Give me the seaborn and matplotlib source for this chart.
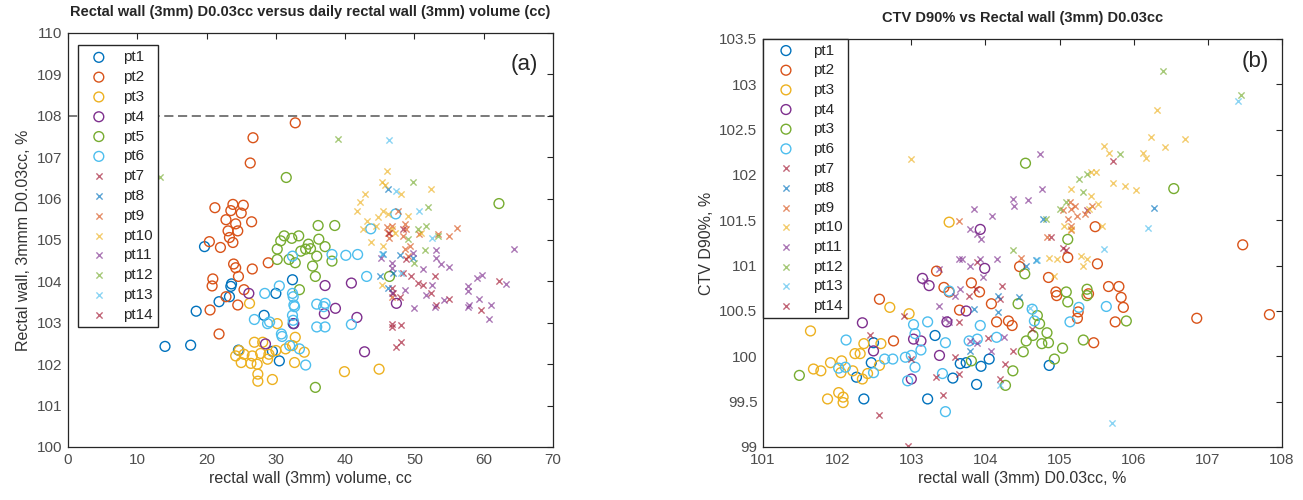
import numpy as np
import pandas as pd
import matplotlib
matplotlib.use('Agg')
import matplotlib.pyplot as plt
import seaborn as sb
from matplotlib.ticker import FormatStrFormatter

sb.set_style('white')
plt.rcParams['font.family'] = ['Liberation Sans', 'DejaVu Sans']

# MATLAB default colour order
kleuren = ['#0072BD', '#D95319', '#EDB120', '#7E2F8E', '#77AC30', '#4DBEEE', '#A2142F']
patients = ['pt%d' % i for i in range(1, 15)]
labels_b = ['pt1', 'pt2', 'pt3', 'pt4', 'pt3', 'pt6', 'pt7', 'pt8', 'pt9', 'pt10',
            'pt11', 'pt12', 'pt13', 'pt14']

# ---- panel (a): rectal wall volume (cc) vs rectal wall D0.03cc (%) ----
a_pt1_x = [14.0, 17.7, 18.5, 19.7, 21.8, 23.3, 23.5, 23.6, 24.6, 28.3, 29.5, 30.0, 32.4, 32.5, 30.5]
a_pt1_y = [102.43, 102.46, 103.28, 104.84, 103.51, 103.63, 103.88, 103.94, 102.34, 103.18, 102.31, 103.71, 104.04, 102.98, 102.08]
a_pt2_x = [32.8, 26.7, 26.3, 21.2, 23.8, 25.3, 23.5, 25.0, 22.8, 26.5, 24.2, 23.1, 24.5, 23.3, 23.8, 20.4, 22.0, 28.9, 26.6, 23.9, 24.2, 24.6, 20.9, 20.8, 22.8, 24.5, 20.5, 21.8, 25.4]
a_pt2_y = [107.83, 107.47, 106.86, 105.78, 105.86, 105.84, 105.71, 105.65, 105.49, 105.44, 105.39, 105.22, 105.22, 105.06, 104.94, 104.96, 104.82, 104.45, 104.30, 104.42, 104.33, 104.12, 104.06, 103.89, 103.63, 103.43, 103.31, 102.73, 103.8]
a_pt3_x = [26.2, 30.2, 32.8, 26.9, 28.1, 24.7, 24.2, 25.4, 26.6, 27.8, 29.0, 30.0, 31.4, 32.4, 34.1, 25.0, 26.4, 27.3, 27.4, 27.4, 29.5, 32.7, 39.9, 44.9, 28.8]
a_pt3_y = [103.47, 102.98, 102.65, 102.53, 102.53, 102.33, 102.20, 102.24, 102.20, 102.26, 102.24, 102.33, 102.37, 102.45, 102.29, 102.04, 102.02, 102.0, 101.76, 101.59, 101.63, 102.04, 101.82, 101.88, 102.12]
a_pt4_x = [26.1, 28.5, 32.6, 37.1, 37.0, 38.6, 40.9, 41.7, 42.8, 47.4]
a_pt4_y = [103.71, 102.49, 102.98, 103.90, 103.22, 103.35, 103.96, 103.13, 102.30, 103.47]
a_pt5_x = [31.5, 62.2, 36.1, 38.5, 31.2, 33.3, 32.3, 30.7, 34.7, 36.2, 37.1, 30.2, 34.3, 35.0, 35.9, 31.9, 30.2, 33.6, 38.1, 32.8, 35.3, 35.7, 33.4, 46.4, 35.7]
a_pt5_y = [106.51, 105.88, 105.35, 105.35, 105.10, 105.10, 105.04, 104.98, 104.90, 105.02, 104.84, 104.78, 104.78, 104.79, 104.61, 104.53, 104.53, 104.73, 104.49, 104.45, 104.37, 104.12, 103.80, 104.12, 101.44]
a_pt6_x = [47.3, 43.7, 38.1, 40.1, 41.8, 32.4, 43.1, 30.5, 28.4, 32.4, 32.5, 32.6, 32.7, 32.4, 32.5, 35.9, 37.1, 36.9, 26.9, 28.8, 29.1, 30.8, 30.9, 32.0, 33.4, 35.9, 37.1, 40.9, 34.3]
a_pt6_y = [105.63, 105.27, 104.65, 104.63, 104.65, 104.61, 104.12, 103.89, 103.71, 103.71, 103.63, 103.43, 103.39, 103.18, 103.06, 103.45, 103.47, 103.39, 103.08, 102.98, 103.02, 102.73, 102.67, 102.45, 102.37, 102.90, 102.90, 102.96, 101.98]
a_pt7_x = [46.7, 46.9, 47.9, 48.4, 49.5, 50.5, 51.2, 52.9, 52.4, 53.1, 55.0]
a_pt7_y = [103.84, 103.71, 103.63, 104.20, 104.12, 103.96, 103.92, 104.12, 103.71, 103.43, 103.57]
a_pt8_x = [46.2, 45.5, 45.0, 46.9, 46.2, 47.9, 49.8]
a_pt8_y = [106.24, 104.65, 104.12, 104.20, 103.84, 104.63, 104.57]
a_pt9_x = [47.6, 46.0, 46.7, 48.6, 48.8, 46.2, 46.4, 48.4, 50.7, 53.4, 55.0, 56.2, 49.3, 49.1, 46.7, 48.6]
a_pt9_y = [105.71, 105.31, 105.35, 105.39, 105.27, 105.18, 105.06, 105.10, 105.14, 105.14, 105.10, 105.28, 104.86, 104.61, 103.63, 104.78]
a_pt10_x = [46.0, 45.3, 45.7, 42.9, 42.1, 41.7, 48.1, 52.4, 43.1, 44.8, 45.5, 46.2, 43.8, 42.6, 44.5, 46.7, 47.2, 45.5, 45.3, 49.1, 51.0]
a_pt10_y = [106.67, 106.41, 106.33, 106.12, 105.92, 105.71, 106.11, 106.24, 105.47, 105.55, 105.71, 105.63, 104.94, 105.27, 105.35, 105.27, 105.18, 104.86, 103.92, 105.59, 105.18]
a_pt11_x = [45.2, 46.7, 46.8, 49.8, 51.2, 53.1, 53.1, 53.8, 55.0, 64.3, 46.7, 48.6, 50.0, 51.7, 52.6, 52.9, 54.3, 57.7, 57.7, 57.9, 59.1, 59.8, 59.3, 61.0, 60.8, 63.2, 57.7]
a_pt11_y = [104.57, 104.45, 104.33, 104.69, 104.29, 104.76, 104.57, 104.41, 104.35, 104.78, 103.71, 103.80, 103.35, 103.67, 103.92, 103.39, 103.55, 103.88, 103.76, 103.43, 104.08, 104.16, 103.57, 103.43, 103.10, 103.94, 103.39]
a_pt12_x = [38.9, 49.8, 51.9, 51.7, 51.5, 53.4, 50.5, 49.1, 49.9, 13.3]
a_pt12_y = [107.45, 106.39, 105.80, 105.33, 104.76, 105.09, 105.27, 105.02, 104.45, 106.53]
a_pt13_x = [46.3, 50.6, 47.3, 52.6, 45.3, 48.1]
a_pt13_y = [107.41, 105.69, 106.19, 105.06, 104.65, 104.20]
a_pt14_x = [59.6, 62.2, 46.7, 46.8, 48.1, 47.4, 48.1, 48.4, 46.4, 48.8]
a_pt14_y = [103.31, 104.0, 102.98, 102.90, 102.94, 102.41, 102.53, 105.27, 105.18, 104.53]

# ---- panel (b): rectal wall D0.03cc (%) vs CTV D90% (%) ----
b_pt1_x = [102.36, 103.22, 103.32, 103.66, 103.74, 103.88, 103.94, 104.05, 104.86, 102.46, 102.49, 102.26, 103.56]
b_pt1_y = [99.53, 99.53, 100.23, 99.92, 99.93, 99.69, 99.89, 99.97, 99.90, 99.93, 100.15, 99.77, 99.76]
b_pt2_x = [102.57, 102.76, 103.34, 103.44, 103.51, 103.65, 103.81, 103.92, 104.08, 104.15, 104.31, 104.36, 104.46, 104.85, 104.95, 104.96, 105.11, 105.24, 105.25, 105.48, 105.51, 105.39, 105.46, 105.66, 105.80, 105.83, 105.86, 105.75, 106.85, 107.47, 107.83]
b_pt2_y = [100.63, 100.17, 100.94, 100.76, 100.71, 100.51, 100.81, 100.71, 100.58, 100.38, 100.39, 100.34, 100.99, 100.87, 100.71, 100.67, 101.09, 100.42, 100.49, 101.43, 101.02, 100.69, 100.15, 100.77, 100.77, 100.65, 100.54, 100.38, 100.42, 101.23, 100.46]
b_pt3_x = [101.64, 101.68, 101.78, 101.91, 101.87, 102.02, 102.08, 102.08, 102.06, 102.21, 102.24, 102.31, 102.36, 102.34, 102.41, 102.59, 102.57, 103.51, 102.71, 102.97, 102.05]
b_pt3_y = [100.28, 99.86, 99.84, 99.93, 99.53, 99.60, 99.55, 99.49, 99.95, 99.84, 100.03, 100.03, 100.14, 99.75, 99.81, 100.14, 99.90, 101.48, 100.54, 100.47, 99.82]
b_pt4_x = [102.34, 102.49, 103.15, 103.24, 103.03, 103.13, 103.38, 103.48, 103.93, 103.99, 103.74, 103.0]
b_pt4_y = [100.37, 100.06, 100.86, 100.78, 100.19, 100.17, 100.01, 100.38, 101.40, 100.97, 100.50, 99.75]
b_pt5_x = [101.49, 104.54, 106.54, 105.11, 105.09, 105.11, 105.37, 105.37, 105.90, 105.32, 105.04, 104.93, 104.73, 104.83, 104.76, 104.85, 104.64, 104.55, 104.51, 104.37, 104.27, 104.53, 104.44, 104.70, 103.81]
b_pt5_y = [99.79, 102.13, 101.85, 101.29, 100.71, 100.60, 100.74, 100.67, 100.39, 100.18, 100.09, 99.97, 100.36, 100.26, 100.14, 100.15, 100.23, 100.17, 100.05, 99.84, 99.68, 100.91, 100.58, 100.45, 99.95]
b_pt6_x = [102.11, 102.12, 102.02, 102.49, 102.64, 102.75, 102.92, 103.0, 103.05, 103.05, 103.03, 103.13, 103.22, 103.46, 103.42, 102.95, 103.46, 103.51, 103.78, 103.89, 103.93, 104.15, 104.63, 104.66, 105.14, 105.26, 105.63]
b_pt6_y = [99.88, 100.18, 99.87, 99.82, 99.97, 99.97, 99.99, 100.01, 100.25, 99.88, 100.35, 100.07, 100.38, 100.15, 99.81, 99.73, 99.39, 100.72, 100.17, 100.19, 100.34, 100.21, 100.52, 100.39, 100.38, 100.54, 100.55]
b_pt7_x = [105.72, 104.88, 105.04, 105.09, 105.37, 104.22, 104.20, 103.89, 103.87, 104.04, 103.59]
b_pt7_y = [102.15, 101.32, 101.20, 101.17, 101.61, 100.78, 100.63, 101.04, 100.74, 100.20, 99.99]
b_pt8_x = [106.28, 104.45, 104.68, 104.55, 104.17, 104.17, 103.79, 103.84, 104.78]
b_pt8_y = [101.64, 100.65, 101.06, 101.0, 100.67, 100.49, 100.06, 100.52, 101.52]
b_pt9_x = [103.64, 105.04, 105.14, 105.16, 105.21, 105.24, 105.34, 105.44, 105.11, 105.16, 105.16, 104.83, 104.48]
b_pt9_y = [101.49, 101.61, 101.70, 101.63, 101.66, 101.55, 101.57, 101.66, 101.51, 101.44, 101.39, 101.32, 101.09]
b_pt10_x = [103.0, 106.31, 106.69, 106.23, 106.42, 105.60, 105.67, 106.13, 106.16, 105.49, 105.42, 105.72, 105.88, 106.03, 105.16, 105.42, 105.52, 105.39, 105.06, 105.16, 104.86, 104.96, 105.29, 105.37, 105.32, 105.57, 104.93]
b_pt10_y = [102.18, 102.72, 102.40, 102.42, 102.31, 102.32, 102.24, 102.24, 102.19, 102.03, 102.03, 101.91, 101.88, 101.83, 101.85, 101.77, 101.68, 101.63, 101.44, 101.40, 101.09, 101.07, 101.11, 101.07, 101.0, 101.44, 100.89]
b_pt11_x = [104.73, 104.76, 104.58, 104.37, 104.39, 104.09, 103.84, 103.79, 103.89, 103.94, 103.64, 103.69, 104.15, 103.79, 103.38, 103.92, 103.66, 103.59, 103.38, 103.46, 103.51, 103.79, 103.89, 104.07, 104.25, 103.18, 103.97]
b_pt11_y = [102.23, 101.85, 101.72, 101.74, 101.66, 101.55, 101.63, 101.40, 101.35, 101.29, 101.07, 101.07, 101.07, 101.0, 100.96, 101.07, 100.74, 100.67, 100.55, 100.41, 100.38, 100.17, 100.15, 100.06, 100.21, 100.83, 100.87]
b_pt12_x = [106.39, 107.44, 105.82, 105.37, 105.26, 104.81, 105.09, 105.31, 104.37, 105.01]
b_pt12_y = [103.15, 102.88, 102.23, 102.01, 101.96, 101.51, 101.70, 101.81, 101.17, 101.63]
b_pt13_x = [107.41, 106.19, 105.60, 104.19, 105.71, 104.70, 104.60]
b_pt13_y = [102.82, 101.42, 101.18, 99.68, 99.27, 101.06, 100.53]
b_pt14_x = [103.64, 103.43, 103.33, 102.90, 102.44, 102.57, 102.95, 104.27, 104.37, 104.63, 104.20, 103.0, 103.64, 103.78]
b_pt14_y = [99.81, 99.57, 99.77, 100.44, 100.23, 99.35, 99.01, 99.92, 100.06, 100.30, 99.75, 99.97, 100.38, 100.67]


def maak_tabel(prefix):
    rijen = []
    for p in patients:
        xs = globals()['%s_%s_x' % (prefix, p)]
        ys = globals()['%s_%s_y' % (prefix, p)]
        rijen.append(pd.DataFrame({'x': xs, 'y': ys, 'pt': p}))
    return pd.concat(rijen, ignore_index=True)


def teken(ax, df, namen):
    for i, p in enumerate(patients):
        sub = df[df.pt == p]
        kleur = kleuren[i % 7]
        if i < 6:
            sb.scatterplot(data=sub, x='x', y='y', ax=ax, marker='o', s=50,
                           facecolors='none', edgecolor=kleur, linewidth=1.0,
                           label=namen[i])
        else:
            sb.scatterplot(data=sub, x='x', y='y', ax=ax, marker='x', s=20,
                           color=kleur, linewidth=1.0, alpha=0.65, label=namen[i])


def opmaak(ax):
    for sp in ax.spines.values():
        sp.set_visible(True)
        sp.set_color('#262626')
        sp.set_linewidth(0.9)
    ax.tick_params(direction='in', top=True, right=True, length=4, width=0.8,
                   labelsize=11, colors='#262626', labelcolor='#4d4d4d', pad=4)


fig = plt.figure(figsize=(13.03, 5.0), dpi=100)
ax1 = fig.add_axes([0.0522, 0.106, 0.3722, 0.828])
ax2 = fig.add_axes([0.5856, 0.106, 0.3983, 0.816])

df_a = maak_tabel('a')
ax1.axhline(108, color='#555555', linestyle=(0, (6, 3)), linewidth=1.1, zorder=0)
teken(ax1, df_a, patients)
ax1.set_xlim(0, 70)
ax1.set_ylim(100, 110)
ax1.set_xticks(range(0, 71, 10))
ax1.set_yticks(range(100, 111, 1))
opmaak(ax1)
ax1.set_xlabel('rectal wall (3mm) volume, cc', fontsize=11.5, color='#333333', labelpad=3)
ax1.set_ylabel('Rectal wall, 3mmm D0.03cc, %', fontsize=11.5, color='#333333', labelpad=4)
ax1.set_title('Rectal wall (3mm) D0.03cc versus daily rectal wall (3mm) volume (cc)',
              fontsize=10.5, fontweight='bold', pad=12)
ax1.text(0.97, 0.95, '(a)', transform=ax1.transAxes, ha='right', va='top', fontsize=16)
leg1 = ax1.legend(loc='upper left', bbox_to_anchor=(0.021, 0.971), fontsize=11,
                  frameon=True, fancybox=False, edgecolor='#262626', framealpha=1,
                  handletextpad=0.6, labelspacing=0.38, borderpad=0.35, handlelength=2.0,
                  borderaxespad=0)
leg1.get_frame().set_linewidth(1.0)

df_b = maak_tabel('b')
teken(ax2, df_b, labels_b)
ax2.set_xlim(101, 108)
ax2.set_ylim(99, 103.5)
ax2.set_xticks(range(101, 109))
ax2.set_yticks(np.arange(99, 103.6, 0.5))
ax2.yaxis.set_major_formatter(FormatStrFormatter('%g'))
opmaak(ax2)
ax2.set_xlabel('rectal wall (3mm) D0.03cc, %', fontsize=11.5, color='#333333', labelpad=3)
ax2.set_ylabel('CTV D90%, %', fontsize=11.5, color='#333333', labelpad=4)
ax2.set_title('CTV D90% vs Rectal wall (3mm) D0.03cc', fontsize=10.5, fontweight='bold', pad=12)
ax2.text(0.975, 0.97, '(b)', transform=ax2.transAxes, ha='right', va='top', fontsize=16)
leg2 = ax2.legend(loc='upper left', bbox_to_anchor=(0.0, 1.0), fontsize=11,
                  frameon=True, fancybox=False, edgecolor='#262626', framealpha=1,
                  handletextpad=0.6, labelspacing=0.37, borderpad=0.3, handlelength=2.4,
                  borderaxespad=0)
leg2.get_frame().set_linewidth(1.0)

plt.savefig('out.png', dpi=100)
